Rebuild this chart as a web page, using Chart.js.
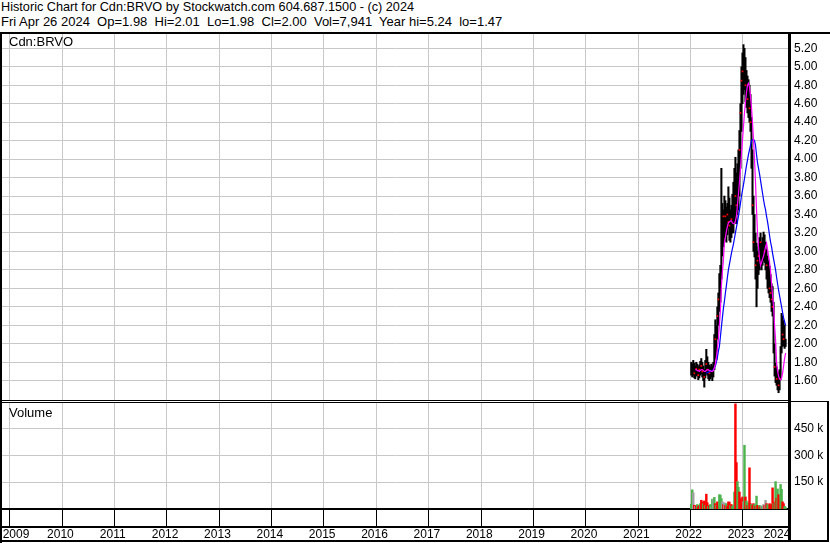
<!DOCTYPE html>
<html>
<head>
<meta charset="utf-8">
<title>Cdn:BRVO historic chart</title>
<script src="https://cdn.jsdelivr.net/npm/chart.js@4.4.1/dist/chart.umd.min.js"></script>
<style>
  body { margin: 0; background: #fff; font-family: "Liberation Sans", Arial, sans-serif; }
  #wrap { position: relative; width: 830px; height: 543px; overflow: hidden; background: #fff; }
  .hdr { position: absolute; left: 1px; font-size: 13px; line-height: 14px; white-space: pre; color: #000; }
  .lbl { position: absolute; left: 9px; font-size: 13px; line-height: 14px; color: #000; }
  .ln { position: absolute; background: #000; }
  canvas { position: absolute; left: 0; }
  #priceChart { top: 34px; }
  #volChart { top: 403px; }
</style>
</head>
<body>
<div id="wrap">
  <div class="hdr" style="top:0px;font-size:12.7px">Historic Chart for Cdn:BRVO by Stockwatch.com 604.687.1500 - (c) 2024</div>
  <div class="hdr" style="top:15px">Fri Apr 26 2024  Op=1.98  Hi=2.01  Lo=1.98  Cl=2.00  Vol=7,941  Year hi=5.24  lo=1.47</div>

  <canvas id="priceChart" width="830" height="366"></canvas>
  <canvas id="volChart" width="830" height="140"></canvas>

  <div class="lbl" style="top:35px">Cdn:BRVO</div>
  <div class="lbl" style="top:406px">Volume</div>

  <!-- frame lines -->
  <div class="ln" style="left:0;top:32px;width:830px;height:2px"></div>
  <div class="ln" style="left:0;top:32px;width:2px;height:511px"></div>
  <div class="ln" style="left:0;top:400px;width:789px;height:1px"></div>
  <div class="ln" style="left:0;top:402px;width:789px;height:1px"></div>
  <div class="ln" style="left:789px;top:401px;width:40px;height:1px"></div>
  <div class="ln" style="left:788px;top:32px;width:3px;height:509px"></div>
  <div class="ln" style="left:827px;top:401px;width:2px;height:141px"></div>
  <div class="ln" style="left:0;top:540px;width:829px;height:2px"></div>
</div>

<script>
// weekly bars, first week ending Jul 8 2022, last Apr 26 2024
const firstWeek = Date.UTC(2022, 6, 8);

const priceHigh = [
  1.80,1.78,1.82,1.79,1.76,1.80,1.78,1.75,1.77,1.81,1.84,1.80,1.76,1.72,1.82,1.94,1.86,1.80,1.77,1.75,1.78,1.76,1.80,
  2.10,2.26,2.20,2.40,2.55,2.76,2.85,3.90,3.52,3.45,
  3.60,3.55,3.48,3.52,3.70,3.58,3.45,3.50,3.62,3.75,3.90,4.02,3.85,3.95,
  4.10,4.31,4.60,5.00,5.15,5.24,5.20,5.10,4.96,4.90,4.86,4.80,4.70,4.45,
  4.10,3.60,3.40,3.20,3.09,3.00,3.05,3.15,3.20,3.10,3.15,3.21,3.18,3.10,3.02,2.95,2.90,2.84,2.75,2.65,
  2.62,2.45,2.00,1.79,1.75,1.70,1.68,1.72,1.97,2.33,2.30,2.25,2.20,2.05
];
const priceLow = [
  1.66,1.64,1.66,1.63,1.62,1.65,1.66,1.61,1.63,1.66,1.68,1.64,1.60,1.53,1.63,1.68,1.66,1.62,1.60,1.62,1.64,1.60,1.64,
  1.72,1.85,1.83,2.05,2.20,2.35,2.45,2.70,2.95,3.05,
  3.15,3.12,3.10,3.18,3.25,3.12,3.10,3.15,3.20,3.20,3.30,3.35,3.30,3.40,
  3.45,3.60,3.90,4.30,4.60,4.70,4.75,4.62,4.56,4.50,4.45,4.40,4.30,3.90,
  3.40,3.00,2.94,2.70,2.40,2.60,2.75,2.80,2.85,2.80,2.85,2.90,2.88,2.80,2.70,2.60,2.55,2.50,2.45,2.35,
  2.30,1.90,1.65,1.58,1.55,1.50,1.47,1.50,1.61,1.90,1.97,1.98,1.95,1.97
];
const priceClose = [
  1.72,1.70,1.75,1.68,1.70,1.73,1.71,1.66,1.72,1.74,1.76,1.70,1.67,1.64,1.74,1.78,1.72,1.69,1.68,1.70,1.71,1.69,1.74,
  2.02,2.05,2.12,2.30,2.48,2.62,2.78,3.30,3.25,3.38,
  3.30,3.38,3.22,3.40,3.32,3.28,3.20,3.35,3.30,3.45,3.55,3.60,3.50,3.70,
  3.90,4.10,4.50,4.85,4.95,5.05,4.90,4.80,4.70,4.65,4.60,4.55,4.40,4.00,
  3.50,3.10,3.05,2.85,2.75,2.90,2.95,3.05,3.10,2.90,3.05,3.10,3.00,2.95,2.85,2.80,2.70,2.60,2.55,2.48,
  2.40,2.00,1.75,1.65,1.62,1.58,1.55,1.62,1.90,2.15,2.10,2.05,2.02,2.00
];
// magenta (short) and blue (long) moving averages as drawn
const maShort = [
  null,null,null,null,
  1.72,1.72,1.71,1.71,1.70,1.71,1.72,1.72,1.71,1.70,1.70,1.71,1.72,1.72,1.71,1.71,1.70,1.70,1.71,
  1.74,1.78,1.85,1.95,2.04,2.20,2.35,2.62,2.78,2.90,
  3.09,3.15,3.22,3.27,3.31,3.32,3.33,3.33,3.31,3.30,3.30,3.33,3.38,3.50,
  3.62,3.75,3.90,4.05,4.20,4.35,4.50,4.62,4.72,4.80,4.82,4.78,4.68,4.56,
  4.40,4.21,4.00,3.75,3.45,3.20,3.05,2.92,2.85,2.88,2.92,2.95,3.00,3.05,3.09,3.02,2.95,2.88,2.78,2.65,
  2.52,2.40,2.20,2.04,1.80,1.70,1.65,1.62,1.61,1.63,1.68,1.76,1.84,1.90
];
const maLong = [
  null,null,null,null,null,null,null,null,null,null,null,null,null,null,null,
  1.68,1.69,1.69,1.70,1.70,1.70,1.71,1.72,
  1.74,1.76,1.80,1.85,1.92,1.97,2.07,2.18,2.28,2.38,
  2.46,2.55,2.63,2.72,2.80,2.86,2.92,2.98,3.03,3.08,3.14,3.20,3.26,3.32,
  3.38,3.45,3.52,3.60,3.66,3.72,3.79,3.86,3.93,3.99,4.05,4.10,4.15,4.20,
  4.21,4.21,4.20,4.15,4.05,3.96,3.90,3.84,3.77,3.70,3.63,3.56,3.50,3.45,3.38,3.32,3.25,3.17,3.10,3.05,
  2.98,2.92,2.86,2.80,2.72,2.65,2.58,2.52,2.46,2.40,2.34,2.28,2.24,2.20
];
// volume in thousands, with week direction: u = up, d = down, n = unchanged
const volume = [
  27,107,91,21,15,18,25,12,20,30,49,40,30,45,20,83,35,15,20,25,10,55,55,
  65,30,22,40,17,80,78,58,40,25,
  35,20,30,15,40,38,20,25,15,20,95,587,259,153,
  121,95,58,30,67,40,356,67,45,20,35,230,30,25,
  20,30,25,15,72,20,15,20,12,18,15,25,20,48,30,25,20,30,20,25,
  118,30,40,153,60,112,80,50,137,110,40,30,15,8
];
const volDir = [
  'u','u','n','d','n','d','u','d','d','u','d','d','u','d','u','d','d','u','d','u','n','u','n',
  'u','d','u','d','d','u','u','u','n','d',
  'n','d','u','d','d','d','u','d','u','u','u','d','d','u',
  'u','d','d','d','d','n','u','d','u','d','u','d','d','u',
  'd','d','u','d','u','d','d','u','d','n','u','n','d','n','d','u','u','d','d','d',
  'd','u','d','u','d','u','d','d','u','u','d','d','u','u'
];

const yearLabels = ['2009','2010','2011','2012','2013','2014','2015','2016','2017','2018','2019','2020','2021','2022','2023','2024'];
const yearLines = [2010,2011,2012,2013,2014,2015,2016,2017,2018,2019,2020,2021,2022,2023,2024];
const priceTicks = [1.60,1.80,2.00,2.20,2.40,2.60,2.80,3.00,3.20,3.40,3.60,3.80,4.00,4.20,4.40,4.60,4.80,5.00,5.20];
const volTicks = [150,300,450];

const X_MIN = 2009.3507, X_MAX = 2024.382;
const GRID = '#c8c8c8';
const dirColor = { u: '#4db34d', d: '#ff0000', n: '#a0a0a0' };

function decYear(ms) {
  const d = new Date(ms);
  const y = d.getUTCFullYear();
  const s = Date.UTC(y, 0, 1), e = Date.UTC(y + 1, 0, 1);
  return y + (ms - s) / (e - s);
}
const weekX = priceClose.map((_, i) => decYear(firstWeek + i * 7 * 864e5));

// stop the scales from reserving room for half-labels at their ends
function noPad(s) {
  s.paddingTop = 0; s.paddingBottom = 0; s.paddingLeft = 0; s.paddingRight = 0;
}

Chart.defaults.font.family = '"Liberation Sans", Arial, sans-serif';
Chart.defaults.font.size = 12;
Chart.defaults.color = '#000';

new Chart(document.getElementById('priceChart'), {
  type: 'bar',
  data: {
    datasets: [
      {
        type: 'line', data: weekX.map((x, i) => ({ x, y: maShort[i] })),
        borderColor: '#ff00ff', borderWidth: 1.2, pointRadius: 0, order: 0
      },
      {
        type: 'line', data: weekX.map((x, i) => ({ x, y: maLong[i] })),
        borderColor: '#0000ff', borderWidth: 1.2, pointRadius: 0, order: 0
      },
      {
        type: 'line', showLine: false,
        data: weekX.map((x, i) => ({ x, y: volDir[i] === 'd' ? priceClose[i] : null })),
        pointStyle: 'rect', pointRadius: 1.2, pointBackgroundColor: '#ff0000', pointBorderWidth: 0, order: 1
      },
      {
        data: weekX.map((x, i) => ({ x, y: [priceLow[i], priceHigh[i]] })),
        backgroundColor: '#000', barThickness: 1.4, order: 2
      }
    ]
  },
  options: {
    responsive: false, animation: false, devicePixelRatio: 1, events: [],
    layout: { autoPadding: false, padding: { left: 2, right: 0, top: 0, bottom: 0 } },
    plugins: { legend: { display: false }, tooltip: { enabled: false } },
    scales: {
      x: {
        type: 'linear', min: X_MIN, max: X_MAX, offset: false,
        grid: { color: GRID, drawTicks: false },
        border: { display: false },
        ticks: { display: false },
        afterBuildTicks: s => { s.ticks = yearLines.map(v => ({ value: v })); },
        afterFit: s => { s.height = 0; noPad(s); }
      },
      y: {
        position: 'right', min: 1.391, max: 5.355,
        grid: { color: GRID, drawTicks: false },
        border: { display: false },
        ticks: { padding: 5, callback: v => v.toFixed(2) },
        afterBuildTicks: s => { s.ticks = priceTicks.map(v => ({ value: v })); },
        afterFit: s => { s.width = 41; noPad(s); }
      }
    }
  }
});

new Chart(document.getElementById('volChart'), {
  type: 'bar',
  data: {
    datasets: [{
      data: weekX.map((x, i) => ({ x, y: volume[i] })),
      backgroundColor: volDir.map(d => dirColor[d]),
      barThickness: 1.8
    }]
  },
  options: {
    responsive: false, animation: false, devicePixelRatio: 1, events: [],
    layout: { autoPadding: false, padding: { left: 2, right: 0, top: 0, bottom: 2 } },
    plugins: { legend: { display: false }, tooltip: { enabled: false } },
    scales: {
      x: {
        type: 'linear', min: X_MIN, max: X_MAX, offset: false, position: 'bottom', weight: 0,
        grid: { color: GRID, tickColor: '#000', tickLength: 18, tickWidth: 1 },
        border: { display: true, color: '#000', width: 2 },
        ticks: { display: false },
        afterBuildTicks: s => { s.ticks = yearLines.map(v => ({ value: v })); },
        afterFit: s => { s.height = 18; noPad(s); }
      },
      xLabels: {
        type: 'linear', min: X_MIN, max: X_MAX, offset: false, position: 'bottom', weight: 1,
        grid: { display: false, drawTicks: false },
        border: { display: true, color: '#000', width: 2 },
        ticks: {
          padding: 0, autoSkip: false, maxRotation: 0, minRotation: 0,
          callback: (v, i) => yearLabels[i]
        },
        afterBuildTicks: s => {
          s.ticks = yearLabels.map((lab, i) => {
            let v = Number(lab) + 0.466;
            if (i === 0) v = X_MIN + 0.267;
            if (i === yearLabels.length - 1) v = X_MAX - 0.229;
            return { value: v };
          });
        },
        afterFit: s => { s.height = 14; noPad(s); }
      },
      y: {
        position: 'right', min: 0, max: 592,
        grid: { color: GRID, drawTicks: false },
        border: { display: false },
        ticks: { padding: 5, callback: v => v + ' k' },
        afterBuildTicks: s => { s.ticks = volTicks.map(v => ({ value: v })); },
        afterFit: s => { s.width = 41; noPad(s); }
      }
    }
  }
});
</script>
</body>
</html>
